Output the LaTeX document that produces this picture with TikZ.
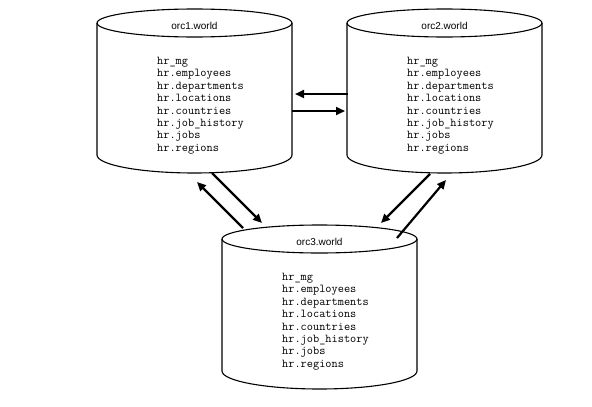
\documentclass[tikz,border=0pt]{standalone}
\usepackage{fontspec}
\usepackage{tikz}
\usetikzlibrary{arrows.meta}
\newfontfamily\titlefont{Liberation Sans}

% one database: centre x, top y, name
\newcommand{\dbcyl}[3]{%
	\draw[cyl] (#1-97.5,#2) -- (#1-97.5,#2+132)
		arc[start angle=180,end angle=0,x radius=97.5,y radius=18] -- (#1+97.5,#2);
	\draw[cyl] (#1,#2) ellipse[x radius=97.5,y radius=14];
	\node[dbname] (#3) at (#1,#2+2.5) {#3.world};
	\node[tables] (#3tab) at (#1-37.5,#2+34) {hr\_mg\\hr.employees\\hr.departments\\hr.locations\\hr.countries\\hr.job\_history\\hr.jobs\\hr.regions};
}

\begin{document}
\begin{tikzpicture}[x=1pt,y=-1pt,
		cyl/.style={line width=1.1pt},
		dbname/.style={font=\titlefont\fontsize{10}{12}\selectfont},
		tables/.style={anchor=north west,inner sep=0pt,align=left,font=\ttfamily\fontsize{12}{12.4}\selectfont},
		link/.style={line width=2.2pt,-{Triangle[length=9pt,width=8pt]}}]
	\useasboundingbox (0,0) rectangle (592,407);
	%
	\dbcyl{194.5}{23}{orc1}
	\dbcyl{444.5}{23}{orc2}
	\dbcyl{319.5}{239}{orc3}
	%
	\coordinate (o2w) at (348,94);
	\coordinate (o1e) at (295,94);
	\coordinate (o1f) at (292,111);
	\coordinate (o2v) at (345,111);
	\coordinate (o3nw) at (243,228);
	\coordinate (o1s) at (197,182);
	\coordinate (o1t) at (212,173);
	\coordinate (o3n) at (262,223);
	\coordinate (o2s) at (430,174);
	\coordinate (o3m) at (381,223);
	\coordinate (o3ne) at (397,238);
	\coordinate (o2t) at (446,180);
	%
	\path[link]
		(o2w) edge (o1e)
		(o1f) edge (o2v)
		(o3nw) edge (o1s)
		(o1t) edge (o3n)
		(o2s) edge (o3m)
		(o3ne) edge (o2t);
\end{tikzpicture}
\end{document}
